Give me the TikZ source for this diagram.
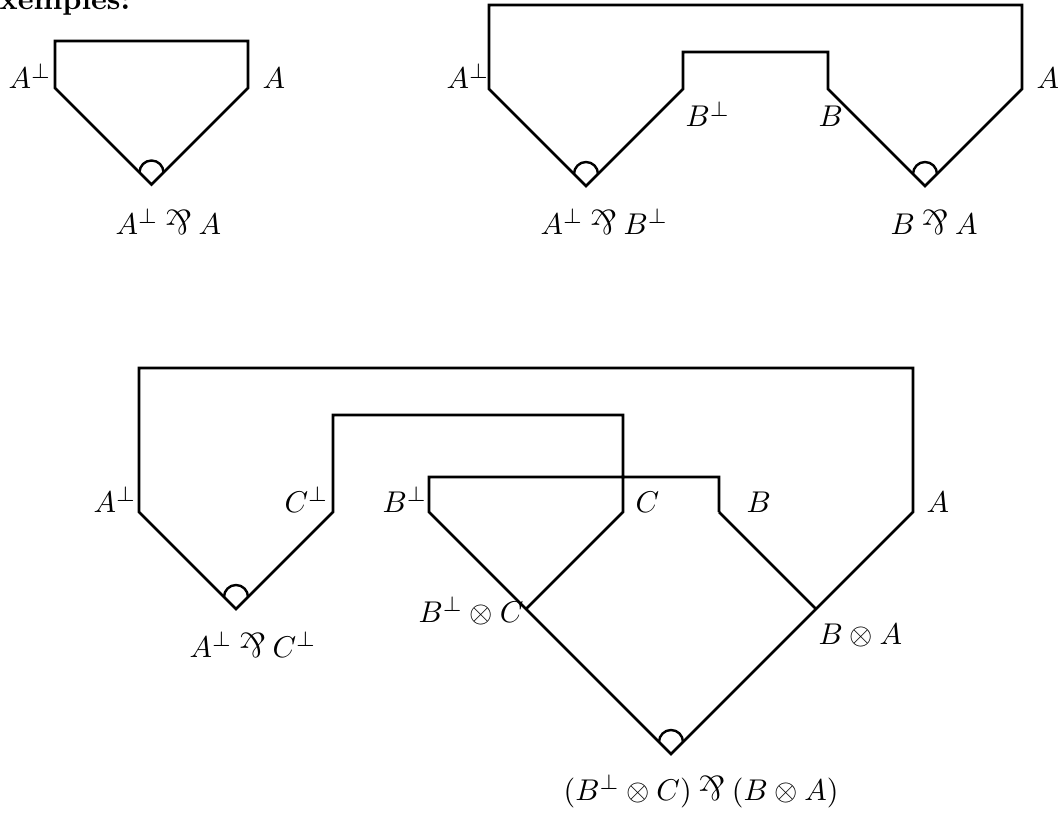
\documentclass[tikz,border=0pt]{standalone}
\usepackage{graphicx}
\newcommand{\rotparr}{\mathbin{\rotatebox[origin=c]{180}{\scalebox{1.15}{$\&$}}}}
\begin{document}
\begin{tikzpicture}[x=0.33333pt,y=-0.33333pt,
  wire/.style={draw,line width=0.87pt,line join=miter,line cap=butt},
  parrmark/.style={draw,line width=0.8pt},
  lbl/.style={inner sep=0pt,font=\normalsize}]
\useasboundingbox (0,0) rectangle (1058,812);

% title
\node[lbl,anchor=base west,font=\normalsize\bfseries] (title) at (-1,10) {xemples:};

% ---------- diagram 1 ----------
\coordinate (d1tl) at (55,41);
\coordinate (d1tr) at (248,41);
\coordinate (d1l) at (55,88);
\coordinate (d1r) at (248,88);
\coordinate (d1v) at (151.5,184.5);
\draw[wire] (d1l) -- (d1tl) -- (d1tr) -- (d1r) -- (d1v) -- cycle;
\draw[parrmark] (d1v) ++(-12,-12) arc[start angle=180,end angle=0,radius=4pt];
\node[lbl,anchor=base west] (d1la) at (8,89) {$A^\perp$};
\node[lbl,anchor=base west] (d1ra) at (262,89) {$A$};
\node[lbl,anchor=base west] (d1f) at (115,234) {$A^\perp \rotparr A$};

% ---------- diagram 2 ----------
\coordinate (d2otl) at (489,5);
\coordinate (d2otr) at (1022,5);
\coordinate (d2l) at (489,89);
\coordinate (d2r) at (1022,89);
\coordinate (d2itl) at (683,52);
\coordinate (d2itr) at (828,52);
\coordinate (d2il) at (683,89);
\coordinate (d2ir) at (828,89);
\coordinate (d2v1) at (586,186);
\coordinate (d2v2) at (925,186);
\draw[wire] (d2v1) -- (d2l) -- (d2otl) -- (d2otr) -- (d2r) -- (d2v2) -- (d2ir) -- (d2itr) -- (d2itl) -- (d2il) -- cycle;
\draw[parrmark] (d2v1) ++(-12,-12) arc[start angle=180,end angle=0,radius=4pt];
\draw[parrmark] (d2v2) ++(-12,-12) arc[start angle=180,end angle=0,radius=4pt];
\node[lbl,anchor=base east] (d2la) at (490,89) {$A^\perp$};
\node[lbl,anchor=base west] (d2ra) at (1036,89) {$A$};
\node[lbl,anchor=base west] (d2lb) at (685,127) {$B^\perp$};
\node[lbl,anchor=base west] (d2rb) at (818,127) {$B$};
\node[lbl,anchor=base west] (d2f1) at (540,234) {$A^\perp \rotparr B^\perp$};
\node[lbl,anchor=base west] (d2f2) at (890,234) {$B \rotparr A$};

% ---------- diagram 3 ----------
\coordinate (oTL) at (139,368);
\coordinate (oTR) at (913,368);
\coordinate (aL) at (139,512);
\coordinate (aR) at (913,512);
\coordinate (mTL) at (333,415);
\coordinate (mTR) at (623,415);
\coordinate (cL) at (333,512);
\coordinate (cR) at (623,512);
\coordinate (iTL) at (429,477);
\coordinate (iTR) at (719,477);
\coordinate (bL) at (429,512);
\coordinate (bR) at (719,512);
\coordinate (vL) at (236,609);
\coordinate (t1) at (526,609);
\coordinate (t2) at (816,609);
\coordinate (bv) at (671,754);
\draw[wire] (bR) -- (iTR) -- (iTL) -- (bL) -- (t1) -- (bv) -- (t2) -- (aR) -- (oTR) -- (oTL) -- (aL) -- (vL) -- (cL) -- (mTL) -- (mTR) -- (cR) -- (t1);
\draw[wire] (bR) -- (t2);
\draw[parrmark] (vL) ++(-12,-12) arc[start angle=180,end angle=0,radius=4pt];
\draw[parrmark] (bv) ++(-12,-12) arc[start angle=180,end angle=0,radius=4pt];
\node[lbl,anchor=base west] (l3a1) at (93,512) {$A^\perp$};
\node[lbl,anchor=base west] (l3c1) at (284,512) {$C^\perp$};
\node[lbl,anchor=base west] (l3b1) at (382,512) {$B^\perp$};
\node[lbl,anchor=base west] (l3c) at (635,512) {$C$};
\node[lbl,anchor=base west] (l3b) at (746,512) {$B$};
\node[lbl,anchor=base west] (l3a) at (926,512) {$A$};
\node[lbl,anchor=base west] (l3t1) at (418,622) {$B^\perp \otimes C$};
\node[lbl,anchor=base west] (l3t2) at (818,644) {$B \otimes A$};
\node[lbl,anchor=base west] (l3p1) at (189,657) {$A^\perp \rotparr C^\perp$};
\node[lbl,anchor=base west] (l3f) at (563,800) {$(B^\perp \otimes C) \rotparr (B \otimes A)$};
\end{tikzpicture}
\end{document}
